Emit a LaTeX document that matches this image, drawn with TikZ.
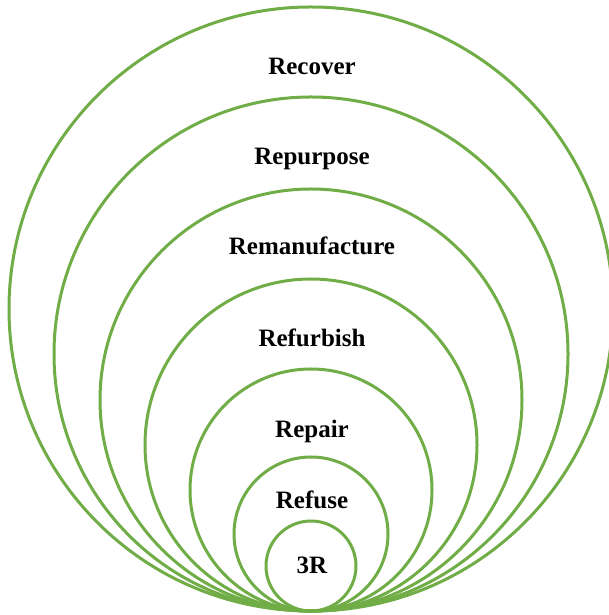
\documentclass[tikz,border=0pt]{standalone}
\usepackage{fontspec}
\setmainfont{Liberation Serif}
\definecolor{ringgreen}{RGB}{112,173,71}
\begin{document}
\begin{tikzpicture}[x=1pt,y=1pt,
  ring/.style={draw=ringgreen,line width=3pt},
  lbl/.style={anchor=base,inner sep=0pt,font=\fontsize{25}{30}\selectfont\bfseries}]
\useasboundingbox (0,0) rectangle (609,615);
\clip (0,0) rectangle (609,615);
\coordinate (t) at (311,4);
\foreach \r/\n in {302/c1,257/c2,211/c3,166/c4,121/c5,77/c6,45/c7}{
  \node[ring,circle,minimum size=2*\r,inner sep=0pt] (\n) at (311,4+\r) {};
}
\node[lbl] (l1) at (312,540) {Recover};
\node[lbl] (l2) at (312,450) {Repurpose};
\node[lbl] (l3) at (312,360) {Remanufacture};
\node[lbl] (l4) at (312,268) {Refurbish};
\node[lbl] (l5) at (312,177) {Repair};
\node[lbl] (l6) at (312,106) {Refuse};
\node[lbl] (l7) at (312,41) {3R};
\end{tikzpicture}
\end{document}
